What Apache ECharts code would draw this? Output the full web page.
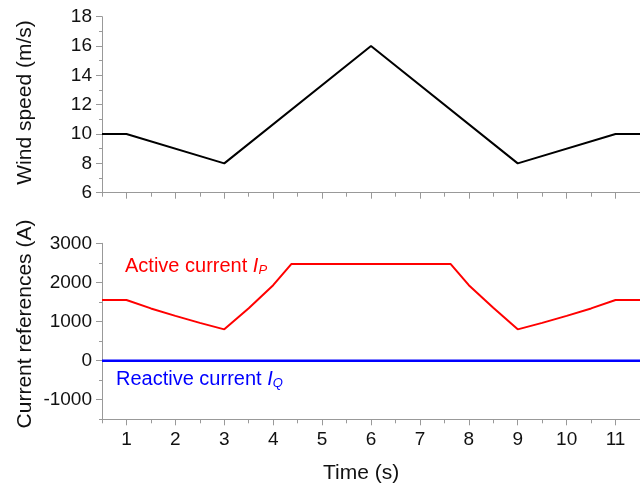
<!DOCTYPE html>
<html>
<head>
<meta charset="utf-8">
<script src="https://cdn.jsdelivr.net/npm/echarts@6/dist/echarts.min.js"></script>
<style>html,body{margin:0;padding:0;background:#fff}#c{width:640px;height:486px}</style>
</head>
<body>
<div id="c"></div>
<script>
// Data
const windSpeed = [[0.5,10],[1,10],[3,8],[6,16],[9,8],[11,10],[11.5,10]];
const activeCurrent = [[0.5,1550],[1,1550],[1.5,1335],[2,1145],[2.5,965],[3,800],[3.5,1340],[4,1930],[4.37,2470],[7.63,2470],[8,1930],[8.5,1350],[9,800],[9.5,965],[10,1145],[10.5,1335],[11,1550],[11.5,1550]];
const reactiveCurrent = [[0.5,0],[11.5,0]];
const timeTicks = [1,2,3,4,5,6,7,8,9,10,11];
const currentTicks = [-1000,0,1000,2000,3000];

const FONT = 'Liberation Sans, Arial, sans-serif';
const AX = '#999999';
const TXT = '#111111';
const plain = v => String(v);

const chart = echarts.init(document.getElementById('c'), null, {renderer:'canvas'});

function minorX(grid){
  return {type:'value', gridIndex:grid, position:'bottom', min:0.5, max:11.5, interval:0.5,
    axisLine:{show:true, onZero:false, lineStyle:{color:AX, width:1}},
    axisTick:{show:true, length:4, inside:false, lineStyle:{color:AX}},
    axisLabel:{show:false}, splitLine:{show:false}};
}
function majorX(grid, labels){
  return {type:'value', gridIndex:grid, position:'bottom', min:0.5, max:11.5,
    axisLine:{show:false, onZero:false},
    axisTick:{show:true, length:6, customValues:timeTicks, lineStyle:{color:AX}},
    axisLabel:{show:labels, customValues:timeTicks, formatter:plain, fontSize:19, fontFamily:FONT, color:TXT, margin:11},
    splitLine:{show:false}};
}

const option = {
  animation:false,
  backgroundColor:'#fff',
  grid:[
    {left:102, top:16.7, width:541, height:176, containLabel:false},
    {left:102, top:243.3, width:541, height:176, containLabel:false}
  ],
  xAxis:[minorX(0), majorX(0,false), minorX(1), majorX(1,true)],
  yAxis:[
    {type:'value', gridIndex:0, position:'left', min:6, max:18, interval:2,
      axisLine:{show:true, onZero:false, lineStyle:{color:AX}},
      axisTick:{show:true, length:6, lineStyle:{color:AX}},
      minorTick:{show:true, splitNumber:2, length:3, lineStyle:{color:AX}},
      axisLabel:{fontSize:19, fontFamily:FONT, color:TXT, margin:10, formatter:plain},
      splitLine:{show:false}, minorSplitLine:{show:false}},
    {type:'value', gridIndex:1, position:'left', min:-1500, max:3000, interval:500,
      axisLine:{show:true, onZero:false, lineStyle:{color:AX}},
      axisTick:{show:true, length:3, lineStyle:{color:AX}},
      axisLabel:{show:false}, splitLine:{show:false}},
    {type:'value', gridIndex:1, position:'left', min:-1500, max:3000,
      axisLine:{show:false, onZero:false},
      axisTick:{show:true, length:6, customValues:currentTicks, lineStyle:{color:AX}},
      axisLabel:{show:true, customValues:currentTicks, formatter:plain, fontSize:19, fontFamily:FONT, color:TXT, margin:10},
      splitLine:{show:false}}
  ],
  series:[
    {type:'line', xAxisIndex:0, yAxisIndex:0, data:windSpeed, symbol:'none',
      lineStyle:{color:'#000', width:2}},
    {type:'line', xAxisIndex:2, yAxisIndex:1, data:activeCurrent, symbol:'none',
      lineStyle:{color:'#ff0000', width:2}},
    {type:'line', xAxisIndex:2, yAxisIndex:1, data:reactiveCurrent, symbol:'none',
      lineStyle:{color:'#0000ff', width:2.5}}
  ],
  graphic:[
    {type:'text', x:25, y:102.5, rotation:Math.PI/2, style:{
      text:'Wind speed (m/s)', fontSize:21, fontFamily:FONT, fill:TXT, align:'center', verticalAlign:'middle'}},
    {type:'text', x:25, y:324, rotation:Math.PI/2, style:{
      text:'Current references (A)', fontSize:21, fontFamily:FONT, fill:TXT, align:'center', verticalAlign:'middle'}},
    {type:'text', left:125, top:256, style:{
      text:'{a|Active current }{i|I}{s|P}',
      rich:{
        a:{fontSize:20, fontFamily:FONT, fill:'#ff0000', lineHeight:22},
        i:{fontSize:20, fontFamily:FONT, fontStyle:'italic', fill:'#ff0000', lineHeight:22},
        s:{fontSize:13, fontFamily:FONT, fontStyle:'italic', fill:'#ff0000', lineHeight:13, verticalAlign:'bottom'}
      }}},
    {type:'text', left:116, top:369, style:{
      text:'{a|Reactive current }{i|I}{s|Q}',
      rich:{
        a:{fontSize:20, fontFamily:FONT, fill:'#0000ff', lineHeight:22},
        i:{fontSize:20, fontFamily:FONT, fontStyle:'italic', fill:'#0000ff', lineHeight:22},
        s:{fontSize:13, fontFamily:FONT, fontStyle:'italic', fill:'#0000ff', lineHeight:13, verticalAlign:'bottom'}
      }}},
    {type:'text', left:323, top:463, style:{
      text:'Time (s)', fontSize:21, fontFamily:FONT, fill:TXT}}
  ]
};
chart.setOption(option);
</script>
</body>
</html>
